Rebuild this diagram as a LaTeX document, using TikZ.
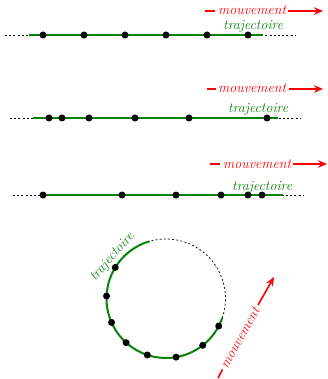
\documentclass[tikz,border=0pt]{standalone}
\usetikzlibrary{arrows.meta,calc}
\begin{document}
\begin{tikzpicture}[x=1pt,y=1pt,
  pt/.style={circle,fill=black,inner sep=0pt,minimum size=7pt},
  guide/.style={black,dashed,dash pattern=on 2pt off 2.2pt,line width=0.7pt},
  path/.style={draw=traj,line width=2pt},
  lbl/.style={font=\fontsize{14}{16}\selectfont\itshape,inner sep=0pt},
  trajlbl/.style={lbl,text=traj},
  mvlbl/.style={lbl,text=red},
  mvline/.style={red,line width=1.6pt},
  mvarrow/.style={mvline,-{Stealth[length=9pt,width=7.5pt]}}]
\definecolor{traj}{RGB}{10,130,10}
\useasboundingbox (0,0) rectangle (327,-379);

% ---------- first straight path: uniform motion ----------
\coordinate (a0) at (5,-35);   \coordinate (a9) at (295,-35);
\coordinate (g0) at (29,-35);  \coordinate (g9) at (263,-35);
\draw[guide] (a0) -- (a9);
\draw[path] (g0) -- (g9);
\foreach \x [count=\i] in {43,84,125,166,207,248}
  \node[pt] (p1\i) at (\x,-35) {};
\node[trajlbl,anchor=base west] (t1) at (223,-29.5) {trajectoire};
\node[mvlbl,anchor=base west] (m1) at (218,-15) {mouvement};
\coordinate (m1a) at (205,-11);
\coordinate (m1b) at (215,-11);
\coordinate (m1c) at (288,-11);
\coordinate (m1d) at (323,-11);
\draw[mvline] (m1a) -- (m1b);
\draw[mvarrow] (m1c) -- (m1d);

% ---------- second straight path: accelerating ----------
\coordinate (b0) at (10,-118);  \coordinate (b9) at (300,-118);
\coordinate (h0) at (33,-118);  \coordinate (h9) at (278,-118);
\draw[guide] (b0) -- (b9);
\draw[path] (h0) -- (h9);
\foreach \x [count=\i] in {49,62,89,135,189,267}
  \node[pt] (p2\i) at (\x,-118) {};
\node[trajlbl,anchor=base west] (t2) at (228,-112.5) {trajectoire};
\node[mvlbl,anchor=base west] (m2) at (218,-93) {mouvement};
\coordinate (m2a) at (207,-89);
\coordinate (m2b) at (216,-89);
\coordinate (m2c) at (289,-89);
\coordinate (m2d) at (323,-89);
\draw[mvline] (m2a) -- (m2b);
\draw[mvarrow] (m2c) -- (m2d);

% ---------- third straight path: decelerating ----------
\coordinate (c0) at (13,-195);  \coordinate (c9) at (304,-195);
\coordinate (k0) at (40,-195);  \coordinate (k9) at (283,-195);
\draw[guide] (c0) -- (c9);
\draw[path] (k0) -- (k9);
\foreach \x [count=\i] in {43,122,176,221,248,262}
  \node[pt] (p3\i) at (\x,-195) {};
\node[trajlbl,anchor=base west] (t3) at (232,-190) {trajectoire};
\node[mvlbl,anchor=base west] (m3) at (223,-168) {mouvement};
\coordinate (m3a) at (210,-164);
\coordinate (m3b) at (220,-164);
\coordinate (m3c) at (293,-164);
\coordinate (m3d) at (327,-164);
\draw[mvline] (m3a) -- (m3b);
\draw[mvarrow] (m3c) -- (m3d);

% ---------- circular path ----------
\coordinate (o) at (166,-298.5);
\def\R{59.5}
\draw[guide] (o) ++(341:\R) arc[start angle=341,end angle=466,radius=\R];
\draw[path] (o) ++(106:\R) arc[start angle=106,end angle=341,radius=\R];
\foreach \a [count=\i] in {148.5,177.6,203.7,227.9,251.7,279.7,308.1,332.4}
  \node[pt] (q\i) at ($(o)+(\a:\R)$) {};
\node[trajlbl,rotate=49] (t4) at (112.5,-257) {trajectoire};
\node[mvlbl,rotate=61] (m4) at (240,-338) {mouvement};
\coordinate (m4a) at (218,-378);
\coordinate (m4b) at (222.5,-369.5);
\coordinate (m4c) at (258,-305);
\coordinate (m4d) at (274,-277);
\draw[mvline] (m4a) -- (m4b);
\draw[mvarrow] (m4c) -- (m4d);
\end{tikzpicture}
\end{document}
